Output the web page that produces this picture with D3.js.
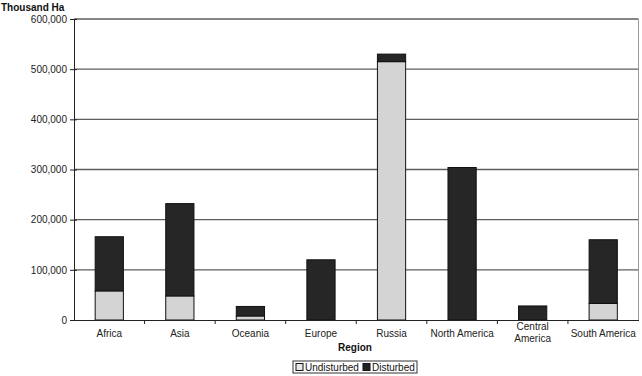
<!DOCTYPE html>
<html>
<head>
<meta charset="utf-8">
<script src="https://cdn.jsdelivr.net/npm/d3@7"></script>
<style>
  body { margin: 0; background: #fff; }
  text { font-family: "Liberation Sans", Arial, sans-serif; }
</style>
</head>
<body>
<div id="chart-area"></div>
<script>
// forest area by region, thousand ha
var regions = ["Africa", "Asia", "Oceania", "Europe", "Russia", "North America", "Central America", "South America"];
var undisturbed = [58000, 48000, 8000, 0, 515000, 0, 0, 33000];
var disturbed = [108000, 184000, 19000, 120000, 15000, 304000, 28000, 127000];
var yTicks = [0, 100000, 200000, 300000, 400000, 500000, 600000];

var width = 642, height = 376;
var plotLeft = 74, plotRight = 638.5, plotTop = 19, plotBottom = 320;

var svg = d3.select("#chart-area").append("svg")
    .attr("width", width)
    .attr("height", height);

var x = d3.scaleBand()
    .domain(regions)
    .range([plotLeft, plotRight])
    .paddingInner(0.6)
    .paddingOuter(0.3);

var y = d3.scaleLinear()
    .domain([0, 600000])
    .range([plotBottom, plotTop]);

// gridlines
svg.append("g")
    .selectAll("line")
    .data(yTicks.slice(1))
    .enter().append("line")
    .attr("x1", plotLeft)
    .attr("x2", plotRight)
    .attr("y1", function(d) { return y(d); })
    .attr("y2", function(d) { return y(d); })
    .attr("stroke", "#5e5e5e")
    .attr("stroke-width", 1.3);

// right border
svg.append("line")
    .attr("x1", plotRight).attr("x2", plotRight)
    .attr("y1", plotTop).attr("y2", plotBottom)
    .attr("stroke", "#9a9a9a");

var stacked = regions.map(function(r, i) {
    return { region: r, u: undisturbed[i], d: disturbed[i] };
});

var bars = svg.append("g");

bars.selectAll(".und")
    .data(stacked.filter(function(s) { return s.u > 0; }))
    .enter().append("rect")
    .attr("class", "und")
    .attr("x", function(d) { return x(d.region); })
    .attr("width", x.bandwidth())
    .attr("y", function(d) { return y(d.u); })
    .attr("height", function(d) { return y(0) - y(d.u); })
    .attr("fill", "#d4d4d4")
    .attr("stroke", "#111")
    .attr("stroke-width", 1);

bars.selectAll(".dis")
    .data(stacked)
    .enter().append("rect")
    .attr("class", "dis")
    .attr("x", function(d) { return x(d.region); })
    .attr("width", x.bandwidth())
    .attr("y", function(d) { return y(d.u + d.d); })
    .attr("height", function(d) { return y(d.u) - y(d.u + d.d); })
    .attr("fill", "#262626")
    .attr("stroke", "#111")
    .attr("stroke-width", 1);

// y axis
var yAxis = d3.axisLeft(y)
    .tickValues(yTicks)
    .tickSize(4)
    .tickFormat(d3.format(","));

var gy = svg.append("g")
    .attr("transform", "translate(" + plotLeft + ",0)")
    .call(yAxis);
gy.select(".domain").attr("stroke", "#222");
// ticks cross the axis line
gy.selectAll(".tick line")
    .attr("x1", 3)
    .attr("x2", -4)
    .attr("stroke", "#222");
gy.selectAll("text")
    .attr("font-size", "10px")
    .attr("fill", "#222")
    .attr("x", -7);

// x axis
var xAxis = d3.axisBottom(x).tickSize(0).tickPadding(10);
var gx = svg.append("g")
    .attr("transform", "translate(0," + plotBottom + ")")
    .call(xAxis);
gx.select(".domain").attr("stroke", "#222");
gx.selectAll("text")
    .attr("font-size", "10px")
    .attr("fill", "#222")
    .each(function(d) {
        if (d === "Central America") {
            var t = d3.select(this);
            t.text(null);
            t.append("tspan").attr("x", 0).attr("dy", 0).text("Central");
            t.append("tspan").attr("x", 0).attr("dy", "1.15em").text("America");
        }
    });

// category separators
var step = x.step();
svg.append("g")
    .selectAll("line")
    .data(d3.range(1, regions.length))
    .enter().append("line")
    .attr("x1", function(i) { return plotLeft + i * step; })
    .attr("x2", function(i) { return plotLeft + i * step; })
    .attr("y1", plotBottom)
    .attr("y2", plotBottom + 4)
    .attr("stroke", "#222");

// titles
svg.append("text")
    .attr("x", 1)
    .attr("y", 11)
    .attr("font-size", "10px")
    .attr("font-weight", "bold")
    .attr("fill", "#111")
    .text("Thousand Ha");

svg.append("text")
    .attr("x", 355)
    .attr("y", 351)
    .attr("text-anchor", "middle")
    .attr("font-size", "10px")
    .attr("font-weight", "bold")
    .attr("fill", "#111")
    .text("Region");

// legend
var legend = svg.append("g").attr("transform", "translate(293,361)");
legend.append("rect")
    .attr("width", 124)
    .attr("height", 12)
    .attr("fill", "#fff")
    .attr("stroke", "#333");

var keys = [
    { label: "Undisturbed", fill: "#e8e8e8", x: 3 },
    { label: "Disturbed", fill: "#222", x: 70 }
];
legend.selectAll(".key")
    .data(keys)
    .enter().append("rect")
    .attr("x", function(d) { return d.x; })
    .attr("y", 2.5)
    .attr("width", 7)
    .attr("height", 7)
    .attr("fill", function(d) { return d.fill; })
    .attr("stroke", "#111");
legend.selectAll(".lbl")
    .data(keys)
    .enter().append("text")
    .attr("x", function(d) { return d.x + 9; })
    .attr("y", 10)
    .attr("font-size", "10px")
    .attr("fill", "#111")
    .text(function(d) { return d.label; });
</script>
</body>
</html>
